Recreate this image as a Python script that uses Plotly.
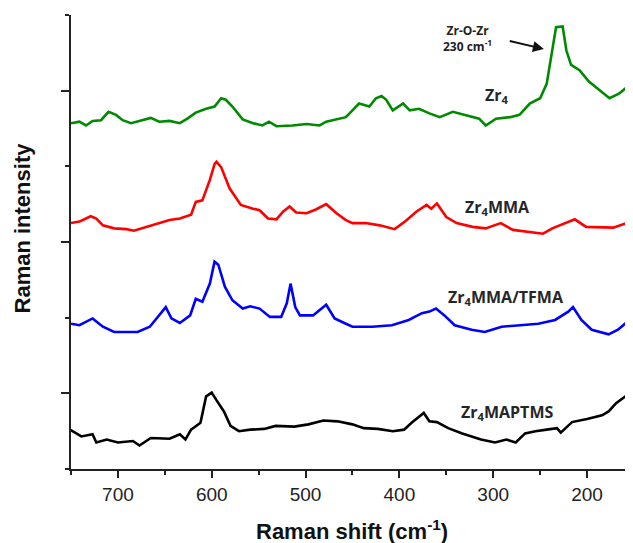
import plotly.graph_objects as go

# ---- data (Raman shift cm-1, offset intensity) ----
zr4_x = [750, 741, 734, 727, 718, 710, 702, 695, 686, 674, 665, 656, 645, 634, 626, 617, 606, 597, 590, 585,
         578, 567, 556, 546, 539, 531, 514, 499, 485, 478, 467, 457, 450, 443, 432, 425, 419, 414, 407, 396,
         389, 379, 368, 357, 343, 329, 315, 308, 297, 282, 272, 261, 250, 243, 238, 233, 226, 222, 217, 208,
         198, 187, 176, 166, 157, 151]
zr4_y = [4.57, 4.59, 4.54, 4.60, 4.61, 4.72, 4.68, 4.61, 4.57, 4.61, 4.64, 4.59, 4.60, 4.57, 4.63, 4.71, 4.76, 4.79, 4.90, 4.88,
         4.79, 4.62, 4.57, 4.54, 4.59, 4.53, 4.54, 4.56, 4.54, 4.59, 4.62, 4.65, 4.74, 4.83, 4.79, 4.90, 4.93, 4.88, 4.74, 4.83,
         4.74, 4.76, 4.70, 4.65, 4.72, 4.68, 4.63, 4.54, 4.63, 4.65, 4.68, 4.83, 4.90, 5.09, 5.49, 5.84, 5.85, 5.53, 5.34, 5.27,
         5.12, 5.01, 4.90, 4.96, 5.05, 5.16]

mma_x = [750, 741, 734, 729, 723, 716, 704, 691, 683, 670, 656, 645, 634, 622, 617, 610, 602, 597, 595, 590,
         581, 569, 556, 549, 540, 531, 524, 517, 510, 499, 489, 478, 467, 457, 450, 436, 421, 405, 393, 382,
         371, 366, 360, 350, 339, 322, 308, 292, 279, 261, 247, 237, 222, 213, 201, 187, 172, 158, 151]
mma_y = [3.25, 3.27, 3.31, 3.34, 3.31, 3.22, 3.18, 3.17, 3.15, 3.20, 3.25, 3.29, 3.31, 3.36, 3.53, 3.55, 3.82, 4.03, 4.06, 3.99,
         3.71, 3.49, 3.44, 3.42, 3.31, 3.30, 3.40, 3.47, 3.39, 3.38, 3.43, 3.50, 3.38, 3.29, 3.25, 3.25, 3.22, 3.17, 3.28, 3.40,
         3.49, 3.44, 3.51, 3.33, 3.25, 3.20, 3.18, 3.25, 3.16, 3.13, 3.11, 3.18, 3.25, 3.30, 3.20, 3.20, 3.19, 3.25, 3.33]

tfma_x = [750, 741, 727, 716, 704, 691, 679, 666, 657, 649, 643, 634, 623, 617, 610, 602, 597, 593, 586, 578,
          567, 559, 549, 538, 526, 520, 516, 511, 506, 492, 478, 469, 457, 450, 429, 408, 390, 376, 368, 361,
          352, 341, 323, 309, 291, 273, 252, 234, 220, 215, 206, 195, 177, 167, 160, 151]
tfma_y = [1.92, 1.90, 1.99, 1.88, 1.81, 1.81, 1.81, 1.88, 2.01, 2.14, 1.99, 1.93, 2.03, 2.25, 2.21, 2.45, 2.74, 2.70, 2.41, 2.23,
          2.12, 2.15, 2.12, 2.01, 2.01, 2.19, 2.45, 2.14, 2.03, 2.03, 2.17, 1.99, 1.92, 1.88, 1.88, 1.90, 1.97, 2.06, 2.08, 2.12,
          2.03, 1.90, 1.84, 1.81, 1.88, 1.90, 1.92, 1.97, 2.08, 2.14, 1.97, 1.84, 1.78, 1.84, 1.92, 2.01]

maptms_x = [751, 739, 727, 723, 712, 700, 684, 677, 665, 645, 634, 628, 622, 612, 606, 600, 595, 587, 580, 571,
            559, 544, 532, 512, 497, 481, 466, 450, 438, 423, 407, 395, 387, 381, 374, 368, 360, 348, 333, 313,
            298, 286, 276, 266, 255, 243, 232, 228, 216, 200, 184, 177, 169, 159, 151]
maptms_y = [0.52, 0.43, 0.46, 0.35, 0.39, 0.35, 0.37, 0.31, 0.41, 0.40, 0.46, 0.39, 0.52, 0.61, 0.96, 1.01, 0.91, 0.76, 0.57, 0.50,
            0.52, 0.53, 0.57, 0.56, 0.59, 0.64, 0.63, 0.59, 0.54, 0.53, 0.50, 0.52, 0.61, 0.67, 0.74, 0.63, 0.62, 0.54, 0.47, 0.39,
            0.35, 0.39, 0.35, 0.47, 0.50, 0.52, 0.54, 0.48, 0.62, 0.66, 0.71, 0.76, 0.87, 0.96, 1.06]

series_names = ["Zr<sub>4</sub>", "Zr<sub>4</sub>MMA", "Zr<sub>4</sub>MMA/TFMA", "Zr<sub>4</sub>MAPTMS"]
series_colors = ["#008a00", "#ff0000", "#0000ff", "#000000"]
label_x = [296, 295, 286, 285]
label_y = [4.93, 3.46, 2.26, 0.75]

x_ticks = [700, 600, 500, 400, 300, 200]

# peak note: arrow tail / head in data units
note_tail = (284, 5.66)
note_head = (246, 5.55)

# ---- figure ----
# the page body adds an 8 px margin, so the figure is 8 px smaller and margins are shifted
fig = go.Figure()
xs = [zr4_x, mma_x, tfma_x, maptms_x]
ys = [zr4_y, mma_y, tfma_y, maptms_y]
for xv, yv, c, n in zip(xs, ys, series_colors, series_names):
    fig.add_trace(go.Scatter(x=xv, y=yv, mode="lines", name=n,
                             line=dict(color=c, width=2.6), showlegend=False))

label_font = dict(family="Open Sans, Lato, sans-serif", size=16, color="#262626")
for n, lx, ly in zip(series_names, label_x, label_y):
    fig.add_annotation(x=lx, y=ly, text="<b>" + n + "</b>", showarrow=False,
                       xanchor="center", yanchor="middle", font=label_font)

fig.add_annotation(x=note_head[0], y=note_head[1], ax=note_tail[0], ay=note_tail[1],
                   axref="x", ayref="y", xref="x", yref="y", text="", showarrow=True,
                   arrowhead=2, arrowsize=1.1, arrowwidth=2, arrowcolor="#111")

fig.update_layout(
    width=625, height=535,
    margin=dict(l=63, r=0, t=7, b=74),
    paper_bgcolor="white", plot_bgcolor="white",
    font=dict(family="Liberation Sans, Arial, sans-serif", color="#222"),
    xaxis=dict(range=[750, 151], showgrid=False, zeroline=False,
               tickmode="array", tickvals=x_ticks,
               ticks="outside", ticklen=7, tickwidth=2, tickcolor="#222",
               showline=True, linecolor="#222", linewidth=2,
               tickfont=dict(size=19, color="#222"),
               minor=dict(dtick=50, tick0=0, ticks="outside", ticklen=4, tickwidth=2, tickcolor="#222")),
    yaxis=dict(range=[0, 6], showgrid=False, zeroline=False,
               tickmode="array", tickvals=[1, 3, 5], showticklabels=False,
               ticks="outside", ticklen=8, tickwidth=2, tickcolor="#222",
               showline=True, linecolor="#222", linewidth=2,
               minor=dict(tickmode="array", tickvals=[0, 2, 4, 6], ticks="outside", ticklen=4, tickwidth=2, tickcolor="#222")),
)

# axis titles
fig.add_annotation(xref="paper", yref="paper", x=0.5, y=-0.134, xanchor="center", yanchor="middle",
                   text="<b>Raman shift (cm<sup>-1</sup>)</b>", showarrow=False,
                   font=dict(family="Liberation Sans, Arial, sans-serif", size=22, color="#111"))
fig.add_annotation(xref="paper", yref="paper", x=-0.087, y=0.53, xanchor="center", yanchor="middle",
                   text="<b>Raman intensity</b>", textangle=-90, showarrow=False,
                   font=dict(family="Liberation Sans, Arial, sans-serif", size=22, color="#111"))

# peak note text
fig.add_annotation(xref="paper", yref="paper",
                   x=(467 - 71) / 562, y=(469 - 39) / 454, xanchor="center", yanchor="middle",
                   text="<b>Zr-O-Zr</b><br><b>230 cm<sup>-1</sup></b>", showarrow=False,
                   font=dict(family="Open Sans, sans-serif", size=12, color="#222"))

fig.write_html("out.html")
